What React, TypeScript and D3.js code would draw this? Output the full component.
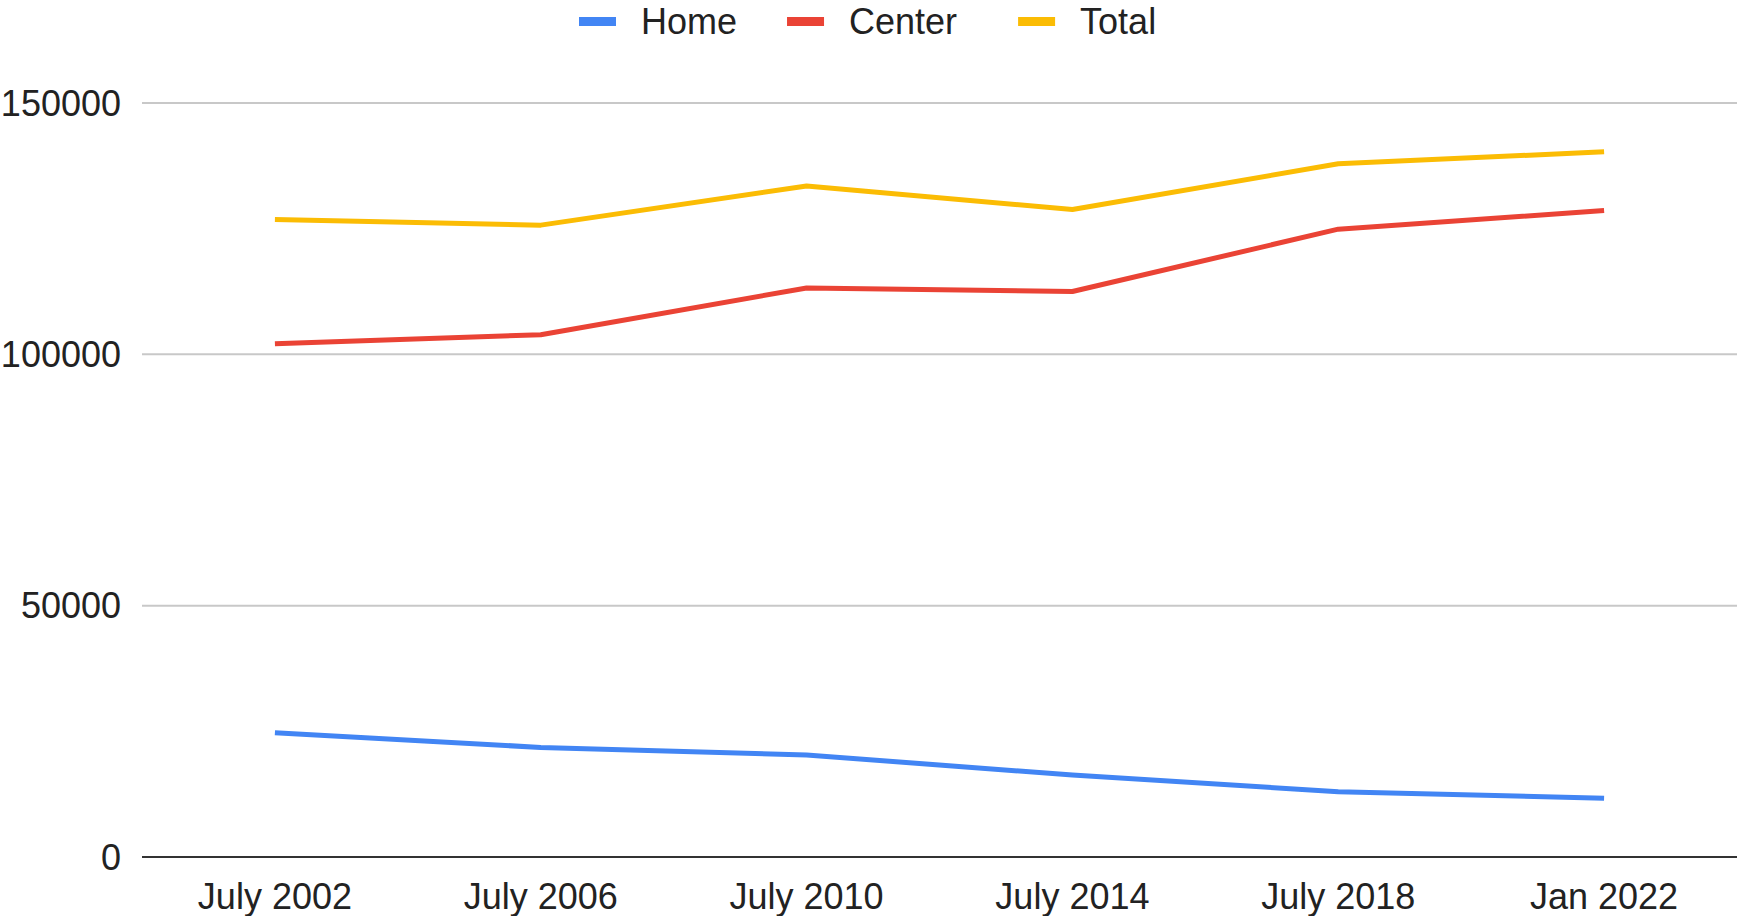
import React, { useEffect, useRef } from 'react';
import * as d3 from 'd3';

// Data
const categories = ['July 2002', 'July 2006', 'July 2010', 'July 2014', 'July 2018', 'Jan 2022'];
const homeValues = [24700, 21800, 20300, 16300, 13000, 11700];
const centerValues = [102100, 103900, 113200, 112500, 124900, 128600];
const totalValues = [126800, 125700, 133500, 128800, 137900, 140300];
const yTicks = [0, 50000, 100000, 150000];
const seriesNames = ['Home', 'Center', 'Total'];
const seriesColors = ['#4285F4', '#EA4335', '#FBBC04'];

function App() {
    const svgRef = useRef<SVGSVGElement>(null);

    useEffect(() => {
        const W = 1737;
        const H = 916;
        const font = '"Liberation Sans", Arial, sans-serif';

        const svg = d3.select(svgRef.current);
        svg.selectAll('*').remove();
        svg.attr('width', W).attr('height', H);

        const left = 142;
        const right = W;
        const top = 103;
        const bottom = 857;

        const x = d3.scalePoint<string>()
            .domain(categories)
            .range([left, right])
            .padding(0.5);

        const y = d3.scaleLinear()
            .domain([0, 150000])
            .range([bottom, top]);

        // Gridlines
        svg.append('g')
            .selectAll('line')
            .data(yTicks.filter(t => t !== 0))
            .join('line')
            .attr('x1', left)
            .attr('x2', right)
            .attr('y1', d => y(d))
            .attr('y2', d => y(d))
            .attr('stroke', '#c8c8c8')
            .attr('stroke-width', 2);

        // Y labels
        svg.append('g')
            .selectAll('text')
            .data(yTicks)
            .join('text')
            .attr('x', 121)
            .attr('y', d => y(d))
            .attr('dy', '0.35em')
            .attr('text-anchor', 'end')
            .attr('font-family', font)
            .attr('font-size', 36)
            .attr('fill', '#222')
            .text(d => String(d));

        // X labels
        svg.append('g')
            .selectAll('text')
            .data(categories)
            .join('text')
            .attr('x', d => x(d)!)
            .attr('y', 909)
            .attr('text-anchor', 'middle')
            .attr('font-family', font)
            .attr('font-size', 36)
            .attr('fill', '#222')
            .text(d => d);

        // Lines
        const seriesData = [homeValues, centerValues, totalValues];
        const line = d3.line<number>()
            .x((_, i) => x(categories[i])!)
            .y(d => y(d));

        svg.append('g')
            .selectAll('path')
            .data(seriesData)
            .join('path')
            .attr('fill', 'none')
            .attr('stroke', (_, i) => seriesColors[i])
            .attr('stroke-width', 5)
            .attr('stroke-linejoin', 'round')
            .attr('d', d => line(d));

        // Baseline
        svg.append('line')
            .attr('x1', left)
            .attr('x2', right)
            .attr('y1', y(0))
            .attr('y2', y(0))
            .attr('stroke', '#333')
            .attr('stroke-width', 2);

        // Legend
        const legend = svg.append('g').attr('transform', 'translate(579,0)');
        const swatchW = 37;
        const gapText = 25;
        const gapItems = [50, 61, 0];
        let cx = 0;
        seriesNames.forEach((name, i) => {
            const g = legend.append('g').attr('transform', `translate(${cx},0)`);
            g.append('rect')
                .attr('x', 0)
                .attr('y', 17)
                .attr('width', swatchW)
                .attr('height', 9)
                .attr('fill', seriesColors[i]);
            const t = g.append('text')
                .attr('x', swatchW + gapText)
                .attr('y', 34)
                .attr('font-family', font)
                .attr('font-size', 36)
                .attr('fill', '#222')
                .text(name);
            const tw = (t.node() as SVGTextElement).getComputedTextLength();
            cx += swatchW + gapText + tw + gapItems[i];
        });
    }, []);

    return (
        <div>
            <svg ref={svgRef} style={{ position: 'absolute', left: 0, top: 0, display: 'block', background: '#fff' }}></svg>
        </div>
    );
}

export default App;
